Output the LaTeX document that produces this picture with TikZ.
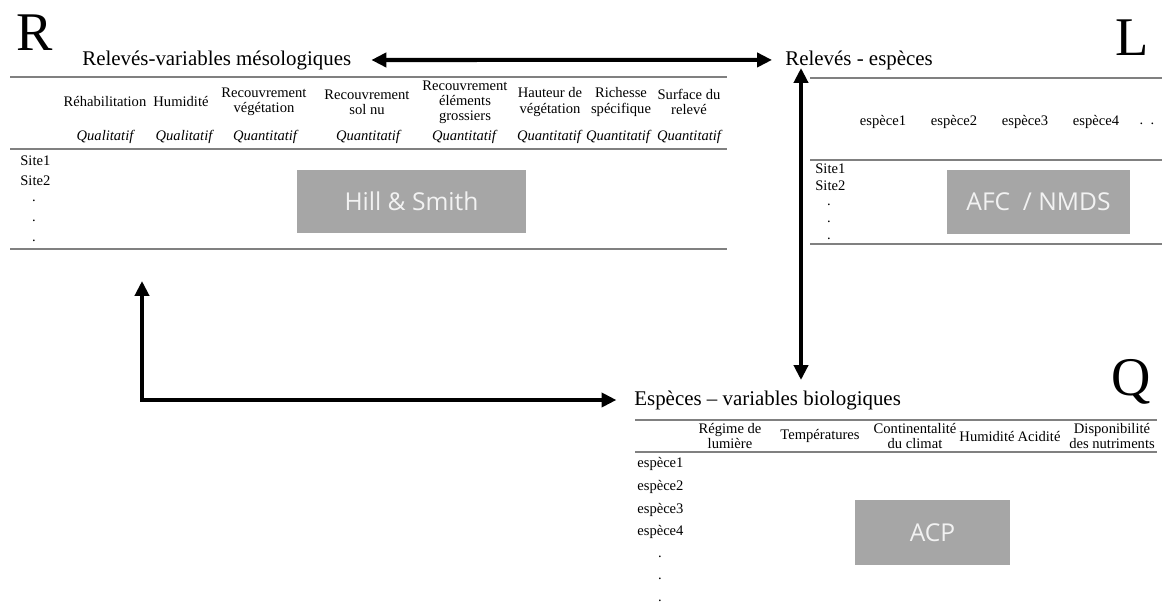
\documentclass[tikz,border=0pt]{standalone}
\usepackage{fontspec}
\usepackage{tikz}
\usetikzlibrary{arrows.meta}
\setmainfont{Liberation Serif}
\newfontfamily\boitefont{Open Sans}

\begin{document}
\begin{tikzpicture}[
    x=0.02cm, y=-0.02cm,
    titre/.style={inner sep=0pt, anchor=base west, font=\fontsize{11.9}{14}\selectfont},
    lettre/.style={inner sep=0pt, anchor=base, font=\fontsize{31}{34}\selectfont},
    entete/.style={inner sep=0pt, align=center, font=\fontsize{8.3}{8.6}\selectfont},
    genre/.style={inner sep=0pt, font=\fontsize{8.3}{8.6}\selectfont\itshape},
    ligne/.style={inner sep=0pt, anchor=west, font=\fontsize{8.3}{8.6}\selectfont},
    boite/.style={rectangle, fill=black!35, text=white!95!black, inner sep=0pt, font=\boitefont\fontsize{14}{16}\selectfont},
    trait/.style={draw=black!50, line width=0.9pt},
    fleches/.style={line width=2.3pt, {Triangle[length=8.5pt,width=8pt]}-{Triangle[length=8.5pt,width=8pt]}}
]
\useasboundingbox (0,0) rectangle (1162,605);

% Lettres
\node (lettreR) [lettre] at (35,50) {R};
\node (lettreL) [lettre] at (1132,55) {L};
\node (lettreQ) [lettre] at (1131,395) {Q};

% Titres
\node (titreR) [titre] at (82,65) {Relevés-variables mésologiques};
\node (titreL) [titre] at (785,65) {Relevés - espèces};
\node (titreQ) [titre] at (634,405) {Espèces -- variables biologiques};

% Tableau R
\draw [trait] (10,77) -- (727,77);
\draw [trait] (10,149) -- (727,149);
\draw [trait] (10,249) -- (727,249);
\node (rehab) [entete] at (105,102) {Réhabilitation};
\node (humR) [entete] at (181,102) {Humidité};
\node (recveg) [entete] at (264,102) {Recouvrement\\végétation};
\node (recsol) [entete] at (367,102) {Recouvrement\\sol nu};
\node (recgros) [entete] at (465,102) {Recouvrement\\éléments\\grossiers};
\node (hauteur) [entete] at (550,102) {Hauteur de\\végétation};
\node (richesse) [entete] at (621,102) {Richesse\\spécifique};
\node (surface) [entete] at (689,102) {Surface du\\relevé};
\node (g1) [genre] at (105,137) {Qualitatif};
\node (g2) [genre] at (184,137) {Qualitatif};
\node (g3) [genre] at (265,137) {Quantitatif};
\node (g4) [genre] at (368,137) {Quantitatif};
\node (g5) [genre] at (464,137) {Quantitatif};
\node (g6) [genre] at (549,137) {Quantitatif};
\node (g7) [genre] at (618,137) {Quantitatif};
\node (g8) [genre] at (689,137) {Quantitatif};
\node (site1R) [ligne] at (20,161) {Site1};
\node (site2R) [ligne] at (20,181) {Site2};
\node (p1R) [entete] at (34,201) {.};
\node (p2R) [entete] at (34,221) {.};
\node (p3R) [entete] at (34,241) {.};
\node (hill) [boite, minimum width=129.8pt, minimum height=35.7pt] at (411.5,201.5) {Hill \& Smith};

% Tableau L
\draw [trait] (810,78) -- (1162,78);
\draw [trait] (810,160) -- (1162,160);
\draw [trait] (810,244) -- (1162,244);
\node (esp1L) [entete] at (883,122) {espèce1};
\node (esp2L) [entete] at (954,122) {espèce2};
\node (esp3L) [entete] at (1025,122) {espèce3};
\node (esp4L) [entete] at (1096,122) {espèce4};
\node (suiteL) [entete] at (1147,124) {.\ \ .};
\node (site1L) [ligne] at (815,169) {Site1};
\node (site2L) [ligne] at (815,186) {Site2};
\node (p1L) [entete] at (829,205) {.};
\node (p2L) [entete] at (829,222) {.};
\node (p3L) [entete] at (829,239) {.};
\node (afc) [boite, minimum width=103.7pt, minimum height=36.3pt] at (1038.5,202) {AFC \ / NMDS};

% Tableau Q
\draw [trait] (635,420) -- (1157,420);
\draw [trait] (635,452) -- (1157,452);
\node (regime) [entete] at (730,436) {Régime de\\lumière};
\node (temp) [entete] at (820,436) {Températures};
\node (cont) [entete] at (915,436) {Continentalité\\du climat};
\node (humQ) [entete] at (987,436) {Humidité};
\node (acid) [entete] at (1039,436) {Acidité};
\node (dispo) [entete] at (1112,436) {Disponibilité\\des nutriments};
\node (esp1Q) [ligne] at (637,464) {espèce1};
\node (esp2Q) [ligne] at (637,487) {espèce2};
\node (esp3Q) [ligne] at (637,510) {espèce3};
\node (esp4Q) [ligne] at (637,532) {espèce4};
\node (p1Q) [entete] at (660,557) {.};
\node (p2Q) [entete] at (660,579) {.};
\node (p3Q) [entete] at (660,601) {.};
\node (acp) [boite, minimum width=87.9pt, minimum height=36.8pt] at (932.5,532.5) {ACP};

% Fleches
\coordinate (hautL) at (801,68);
\coordinate (basL) at (801,380);
\coordinate (coinR) at (142,281);
\draw [fleches, shorten <=11.3pt, shorten >=7.4pt] (titreR.east) -- (titreL.west);
\draw [fleches] (hautL) -- (basL);
\draw [fleches, shorten >=10pt] (coinR) |- (titreQ.west);

\end{tikzpicture}
\end{document}
